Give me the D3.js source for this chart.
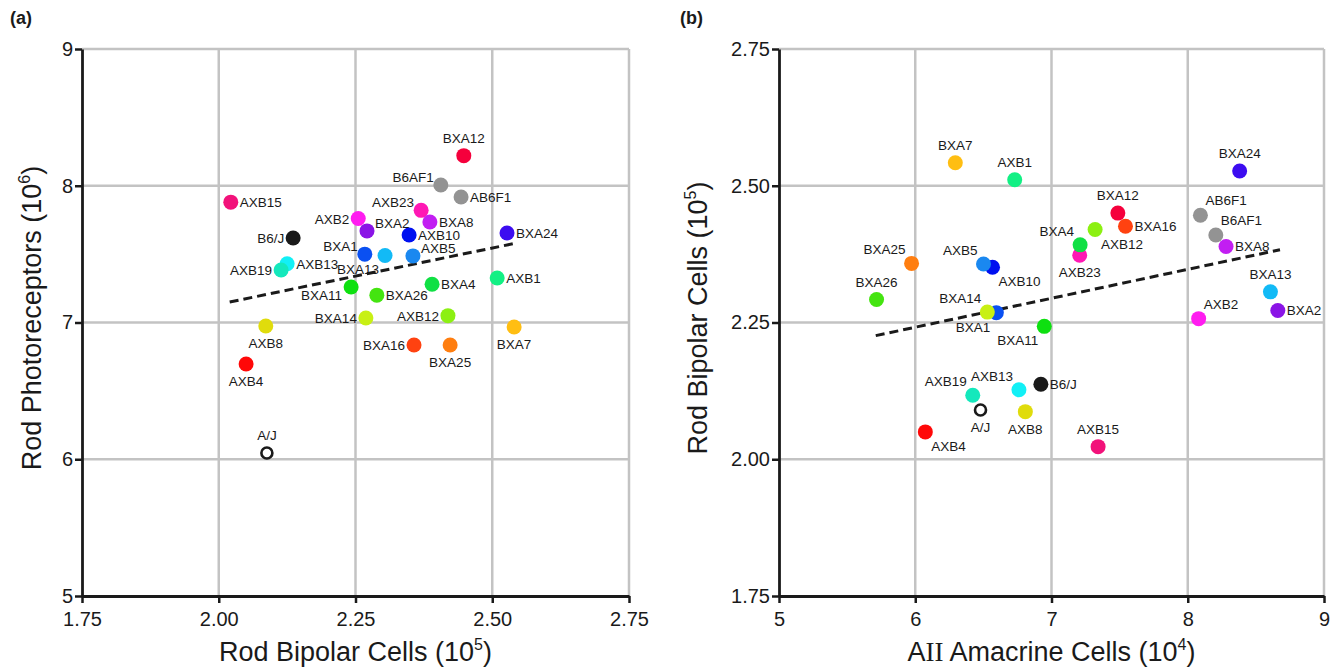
<!DOCTYPE html>
<html lang="en">
    <head>
        <meta charset="utf-8">
        <title>Rod pathway scatterplots</title>
        <script src="https://d3js.org/d3.v7.min.js"></script>
        <style type="text/css">
            body { margin: 0; background: #fff; }
            text { font-family: "Liberation Sans", Arial, sans-serif; fill: #1a1a1a; }
        </style>
    </head>
    <body>
        <script type="text/javascript">

            const svgW = 1331;
            const svgH = 669;

            // strain names, shared by both panels
            const strains = ["BXA12", "B6AF1", "AB6F1", "AXB15", "AXB2", "AXB23", "BXA2", "BXA8",
                             "B6/J", "AXB10", "BXA24", "BXA1", "BXA13", "AXB5", "AXB13", "AXB19",
                             "AXB1", "BXA4", "BXA11", "BXA26", "BXA14", "AXB12", "AXB8", "BXA7",
                             "BXA16", "BXA25", "AXB4", "A/J"];

            const strainColors = ["#f5003c", "#939393", "#939393", "#f2127a", "#ff1cf0", "#ff18b4", "#8a14e6", "#c21ef2",
                                  "#1a1a1a", "#0010f0", "#3c0cf0", "#0a50f2", "#12baf6", "#1a88f0", "#12f0f6", "#14e8bc",
                                  "#12f084", "#10e044", "#0ee010", "#44e410", "#c8f014", "#8cf012", "#e0dc0c", "#ffbe12",
                                  "#ff4210", "#ff7e10", "#ff0808", "#ffffff"];

            // panel (a): rod bipolar cells (10^5) vs rod photoreceptors (10^6)
            const bipolarA = [2.448, 2.406, 2.443, 2.022, 2.255, 2.370, 2.271, 2.386,
                              2.136, 2.348, 2.527, 2.267, 2.304, 2.355, 2.125, 2.114,
                              2.509, 2.390, 2.242, 2.289, 2.269, 2.419, 2.086, 2.540,
                              2.357, 2.423, 2.050, 2.088];
            const photoA = [8.22, 8.005, 7.918, 7.88, 7.76, 7.82, 7.67, 7.735,
                            7.618, 7.64, 7.655, 7.50, 7.49, 7.487, 7.43, 7.384,
                            7.325, 7.28, 7.26, 7.20, 7.033, 7.05, 6.974, 6.967,
                            6.835, 6.835, 6.697, 6.046];

            // panel (b): AII amacrine cells (10^4) vs rod bipolar cells (10^5)
            const amacrineB = [7.487, 8.206, 8.093, 7.342, 8.080, 7.207, 8.661, 8.281,
                               6.922, 6.567, 8.381, 6.595, 8.607, 6.501, 6.761, 6.422,
                               6.730, 7.210, 6.947, 5.716, 6.529, 7.320, 6.808, 6.294,
                               7.543, 5.973, 6.074, 6.479];
            const bipolarB = [2.450, 2.410, 2.446, 2.023, 2.257, 2.373, 2.272, 2.389,
                              2.137, 2.351, 2.527, 2.268, 2.306, 2.357, 2.127, 2.117,
                              2.511, 2.392, 2.243, 2.292, 2.269, 2.420, 2.087, 2.542,
                              2.426, 2.358, 2.050, 2.090];

            // dashed fit lines, end points in data units
            const fitA = [[2.02, 7.15], [2.543, 7.58]];
            const fitB = [[5.71, 2.226], [8.677, 2.383]];

            const ticksAx = [1.75, 2.00, 2.25, 2.50, 2.75];
            const ticksAy = [5, 6, 7, 8, 9];
            const ticksBx = [5, 6, 7, 8, 9];
            const ticksBy = [1.75, 2.00, 2.25, 2.50, 2.75];

            // label side for each point
            const placeA = {"BXA12": "t", "B6AF1": "lu", "AB6F1": "r", "AXB15": "r", "AXB2": "l", "AXB23": "lu",
                            "BXA2": "ru", "BXA8": "r", "B6/J": "l", "AXB10": "r", "BXA24": "r", "BXA1": "lu",
                            "BXA13": "bl", "AXB5": "ru", "AXB13": "r", "AXB19": "l", "AXB1": "r", "BXA4": "r",
                            "BXA11": "ld", "BXA26": "r", "BXA14": "l", "AXB12": "l", "AXB8": "b", "BXA7": "b",
                            "BXA16": "l", "BXA25": "b", "AXB4": "b", "A/J": "t"};
            const placeB = {"BXA12": "t", "B6AF1": "tr", "AB6F1": "tr", "AXB15": "t", "AXB2": "tr", "AXB23": "b",
                            "BXA2": "r", "BXA8": "r", "B6/J": "r", "AXB10": "br", "BXA24": "t", "BXA1": "bl",
                            "BXA13": "t", "AXB5": "tl", "AXB13": "tl", "AXB19": "tl", "AXB1": "t", "BXA4": "tl",
                            "BXA11": "bl", "BXA26": "t", "BXA14": "tl", "AXB12": "br", "AXB8": "b", "BXA7": "t",
                            "BXA16": "r", "BXA25": "tl", "AXB4": "br", "A/J": "b"};

            const svg = d3.select("body")
                    .append("svg")
                    .attr("width", svgW)
                    .attr("height", svgH);

            const off = {
                t: [0, -13, "middle"], b: [0, 22, "middle"],
                l: [-9, 5, "end"], r: [9, 5, "start"],
                lu: [-7, -3, "end"], ru: [8, -3, "start"],
                ld: [-9, 13, "end"],
                tl: [-6, -9, "end"], tr: [5, -10, "start"],
                bl: [-6, 19, "end"], br: [6, 19, "start"]
            };

            function drawPanel(opt) {
                const xScale = d3.scaleLinear().domain(opt.xDomain).range(opt.xRange);
                const yScale = d3.scaleLinear().domain(opt.yDomain).range([596, 49]);
                const g = svg.append("g");

                // grid (includes top and right frame)
                g.selectAll(".vgrid").data(opt.xTicks.slice(1)).enter().append("line")
                    .attr("x1", d => xScale(d)).attr("x2", d => xScale(d))
                    .attr("y1", yScale.range()[0]).attr("y2", yScale.range()[1])
                    .attr("stroke", "#c3c3c3").attr("stroke-width", 2.5);
                g.selectAll(".hgrid").data(opt.yTicks.slice(1)).enter().append("line")
                    .attr("y1", d => yScale(d)).attr("y2", d => yScale(d))
                    .attr("x1", xScale.range()[0]).attr("x2", xScale.range()[1])
                    .attr("stroke", "#c3c3c3").attr("stroke-width", 2.5);

                const bottomAxis = d3.axisBottom(xScale).tickValues(opt.xTicks)
                    .tickFormat(opt.xFmt).tickSizeInner(7).tickSizeOuter(0).tickPadding(4);
                const gx = g.append("g")
                    .attr("transform", "translate(0," + yScale.range()[0] + ")")
                    .call(bottomAxis);
                const leftAxis = d3.axisLeft(yScale).tickValues(opt.yTicks)
                    .tickFormat(opt.yFmt).tickSizeInner(7).tickSizeOuter(0).tickPadding(4);
                const gy = g.append("g")
                    .attr("transform", "translate(" + xScale.range()[0] + ",0)")
                    .call(leftAxis);
                [gx, gy].forEach(a => {
                    a.select(".domain").attr("stroke", "#1a1a1a").attr("stroke-width", 2.8);
                    a.selectAll(".tick line").attr("stroke", "#1a1a1a").attr("stroke-width", 2.5);
                    a.selectAll(".tick text").attr("font-size", 20)
                        .attr("font-family", "Liberation Sans, Arial, sans-serif").attr("fill", "#1a1a1a");
                });
                gx.selectAll(".tick text").attr("dy", "0.95em");
                gy.selectAll(".tick text").attr("dx", "0.1em");

                // fit line
                g.append("line")
                    .attr("x1", xScale(opt.fit[0][0])).attr("y1", yScale(opt.fit[0][1]))
                    .attr("x2", xScale(opt.fit[1][0])).attr("y2", yScale(opt.fit[1][1]))
                    .attr("stroke", "#1a1a1a").attr("stroke-width", 3)
                    .attr("stroke-dasharray", "9,5");

                const pts = strains.map((s, i) => ({name: s, x: opt.xs[i], y: opt.ys[i], c: strainColors[i]}));

                g.selectAll("circle").data(pts).enter().append("circle")
                    .attr("cx", d => xScale(d.x))
                    .attr("cy", d => yScale(d.y))
                    .attr("r", d => d.name === "A/J" ? 5.5 : 7.5)
                    .attr("fill", d => d.c)
                    .attr("stroke", d => d.name === "A/J" ? "#1a1a1a" : "none")
                    .attr("stroke-width", 2.6);

                g.selectAll(".lbl").data(pts).enter().append("text")
                    .attr("x", d => xScale(d.x) + off[opt.place[d.name]][0])
                    .attr("y", d => yScale(d.y) + off[opt.place[d.name]][1])
                    .attr("text-anchor", d => off[opt.place[d.name]][2])
                    .attr("font-size", 13.5)
                    .attr("fill", "#222")
                    .text(d => d.name);

                // panel letter
                svg.append("text")
                    .attr("x", opt.letterX).attr("y", 24)
                    .attr("font-size", 18).attr("font-weight", "bold")
                    .text(opt.letter);

                // axis titles
                const xt = svg.append("text")
                    .attr("x", (xScale.range()[0] + xScale.range()[1]) / 2)
                    .attr("y", 661)
                    .attr("text-anchor", "middle")
                    .attr("font-size", 27);
                opt.xTitle(xt);

                const yt = svg.append("text")
                    .attr("transform", "translate(" + opt.yTitleX + "," + 318 + ") rotate(-90)")
                    .attr("text-anchor", "middle")
                    .attr("font-size", 27);
                opt.yTitle(yt);
            }

            function powerTitle(sel, base, exp) {
                sel.append("tspan").text(base + " (10");
                sel.append("tspan").attr("font-size", 16).attr("dy", -11).text(exp);
                sel.append("tspan").attr("dy", 11).text(")");
            }

            drawPanel({
                letter: "(a)", letterX: 10,
                xDomain: [1.75, 2.75], xRange: [82, 629],
                yDomain: [5, 9],
                xTicks: ticksAx, yTicks: ticksAy,
                xFmt: d3.format(".2f"), yFmt: d3.format("d"),
                xs: bipolarA, ys: photoA, fit: fitA, place: placeA,
                yTitleX: 41,
                xTitle: t => powerTitle(t, "Rod Bipolar Cells", "5"),
                yTitle: t => powerTitle(t, "Rod Photoreceptors", "6")
            });

            drawPanel({
                letter: "(b)", letterX: 680,
                xDomain: [5, 9], xRange: [779, 1324],
                yDomain: [1.75, 2.75],
                xTicks: ticksBx, yTicks: ticksBy,
                xFmt: d3.format("d"), yFmt: d3.format(".2f"),
                xs: amacrineB, ys: bipolarB, fit: fitB, place: placeB,
                yTitleX: 707,
                xTitle: t => {
                    t.append("tspan").text("A");
                    t.append("tspan").attr("font-family", "Liberation Serif, Times New Roman, serif").text("II");
                    t.append("tspan").text(" Amacrine Cells (10");
                    t.append("tspan").attr("font-size", 16).attr("dy", -11).text("4");
                    t.append("tspan").attr("dy", 11).text(")");
                },
                yTitle: t => powerTitle(t, "Rod Bipolar Cells", "5")
            });

        </script>
    </body>
</html>
